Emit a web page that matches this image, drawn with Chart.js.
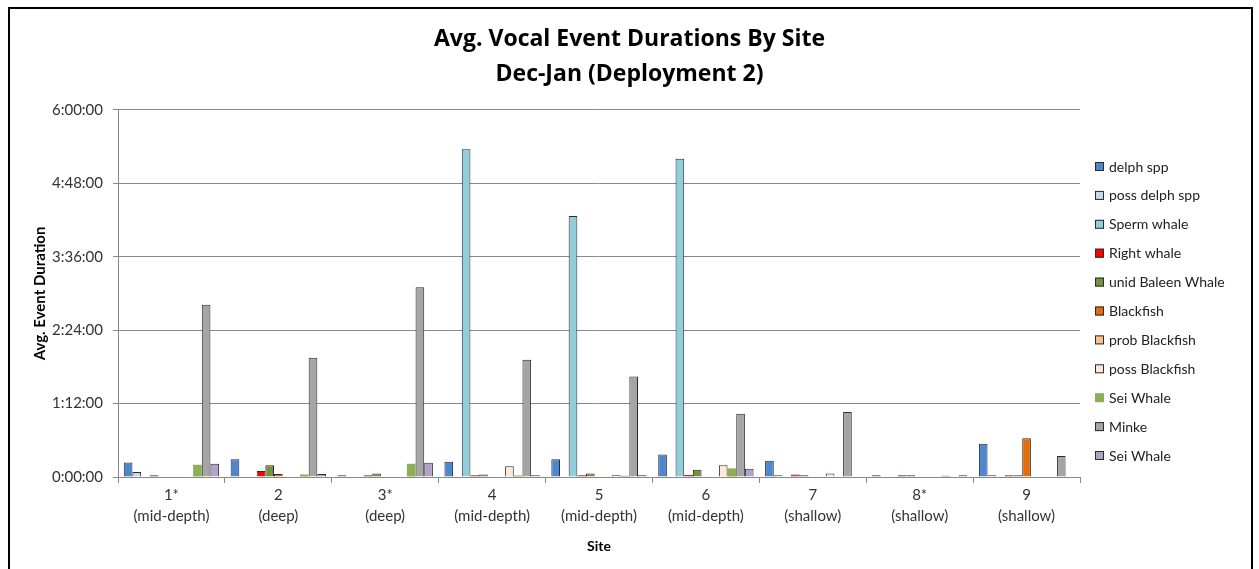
<!DOCTYPE html>
<html>
<head>
<meta charset="utf-8">
<script src="https://cdn.jsdelivr.net/npm/chart.js@4.4.1/dist/chart.umd.min.js"></script>
<style>
  html, body { margin: 0; padding: 0; background: #fff; overflow: hidden; }
  #wrap { position: relative; width: 1259px; height: 569px; }
  #frame { position: absolute; left: 8px; top: 7px; width: 1241px; height: 620px; border: 2px solid #000; pointer-events: none; }
</style>
</head>
<body>
<div id="wrap">
  <canvas id="c" width="1259" height="569"></canvas>
  <div id="frame"></div>
</div>
<script>
// Values in minutes
const sites = ['1*', '2', '3*', '4', '5', '6', '7', '8*', '9'];
const depths = ['(mid-depth)', '(deep)', '(deep)', '(mid-depth)', '(mid-depth)', '(mid-depth)', '(shallow)', '(shallow)', '(shallow)'];

const delphSpp      = [14.3, 17.5, 1.7, 15, 17.5, 22, 16, 1.7, 32.5];
const possDelphSpp  = [4.9, null, null, null, null, null, 1.7, null, 1.7];
const spermWhale    = [null, null, null, 321.5, 256, 312, null, null, null];
const rightWhale    = [1.7, 6, 1.7, 1.7, 1.7, 2.2, 2.5, 1.7, 1.7];
const unidBaleen    = [null, 11.5, 3.5, 2.5, 3.5, 7, 1.7, 1.7, 1.7];
const blackfish     = [null, 3, null, null, null, null, null, null, 38];
const probBlackfish = [null, null, null, null, null, null, null, null, null];
const possBlackfish = [null, null, null, 10.5, 1.7, 11.5, 3.5, null, null];
const seiWhaleA     = [12, 2.5, 13, 1.5, 1.2, 8.5, null, 1.2, null];
const minke         = [169, 117, 186, 115, 98.5, 62, 63.7, null, 20.5];
const seiWhaleB     = [13, 3, 14, 1.7, 1.7, 8, null, 1.7, null];

const yTicks = [0, 72, 144, 216, 288, 360];

function fmt(mins) {
  const h = Math.floor(mins / 60);
  const m = Math.round(mins % 60);
  return h + ':' + String(m).padStart(2, '0') + ':00';
}

const border = '#2b2b2b';
function ds(label, data, color, bw) {
  return { label, data, backgroundColor: color, borderColor: border, borderWidth: bw === undefined ? 1 : bw, yAxisID: 'y' };
}

const datasets = [
  ds('delph spp', delphSpp, '#4F86D0'),
  ds('poss delph spp', possDelphSpp, '#C6D9F1'),
  ds('Sperm whale', spermWhale, '#92CDDC'),
  ds('Right whale', rightWhale, '#FF0000'),
  ds('unid Baleen Whale', unidBaleen, '#76923C'),
  ds('Blackfish', blackfish, '#E46C0A'),
  ds('prob Blackfish', probBlackfish, '#FAC090'),
  ds('poss Blackfish', possBlackfish, '#FDE9D9'),
  ds('Sei Whale', seiWhaleA, '#8EAE55', 0),
  ds('Minke', minke, '#A5A5A5'),
  ds('Sei Whale', seiWhaleB, '#B3A2C7')
];

const legendPlugin = {
  id: 'sideLegend',
  afterDraw(chart) {
    const ctx = chart.ctx;
    ctx.save();
    ctx.font = '14px Lato';
    ctx.textBaseline = 'middle';
    ctx.textAlign = 'left';
    chart.data.datasets.forEach((d, i) => {
      const y = 167 + i * 28.9;
      ctx.fillStyle = d.backgroundColor;
      ctx.fillRect(1095, y - 5, 9, 9);
      if (d.borderWidth) {
        ctx.strokeStyle = border;
        ctx.lineWidth = 1;
        ctx.strokeRect(1095.5, y - 4.5, 8, 8);
      }
      ctx.fillStyle = '#222';
      ctx.fillText(d.label, 1109, y);
    });
    ctx.restore();
  }
};

new Chart(document.getElementById('c'), {
  type: 'bar',
  data: {
    labels: sites.map((s, i) => [s, depths[i]]),
    datasets
  },
  plugins: [legendPlugin],
  options: {
    responsive: false,
    animation: false,
    layout: { padding: 0 },
    datasets: { bar: { categoryPercentage: 0.892, barPercentage: 1.0 } },
    plugins: {
      legend: { display: false },
      tooltip: { enabled: false },
      title: {
        display: true,
        text: ['Avg. Vocal Event Durations By Site', 'Dec-Jan (Deployment 2)'],
        font: { family: 'Open Sans', size: 23, weight: 'bold', lineHeight: 1.52 },
        color: '#000',
        padding: { top: 22, bottom: 18 }
      }
    },
    scales: {
      x: {
        grid: { display: true, drawOnChartArea: false, drawTicks: true, tickLength: 6, color: '#888', offset: true },
        border: { display: true, color: '#888' },
        ticks: { font: { family: 'Lato', size: 15, lineHeight: 1.4 }, color: '#333', padding: 2, maxRotation: 0, autoSkip: false },
        title: { display: true, text: 'Site', font: { family: 'Lato', size: 14, weight: 'bold' }, color: '#000', padding: { top: 0, bottom: 14 } },
        afterFit(scale) { scale.height = 92; }
      },
      y: {
        position: 'left',
        min: 0, max: 360,
        afterBuildTicks(scale) { scale.ticks = yTicks.map(v => ({ value: v })); },
        grid: { color: '#888', lineWidth: 1, drawTicks: true, tickLength: 5 },
        border: { display: true, color: '#888' },
        ticks: { font: { family: 'Lato', size: 15 }, color: '#333', padding: 10, callback: v => fmt(v) },
        title: { display: true, text: 'Avg. Event Duration', font: { family: 'Lato', size: 15, weight: 'bold' }, color: '#000', padding: { top: 31, bottom: 0 } },
        afterFit(scale) { scale.width = 118; }
      },
      legendSpace: {
        type: 'linear',
        position: 'right',
        display: true,
        grid: { display: false, drawTicks: false },
        border: { display: false },
        ticks: { display: false },
        afterFit(scale) { scale.width = 179; }
      }
    }
  }
});
</script>
</body>
</html>
